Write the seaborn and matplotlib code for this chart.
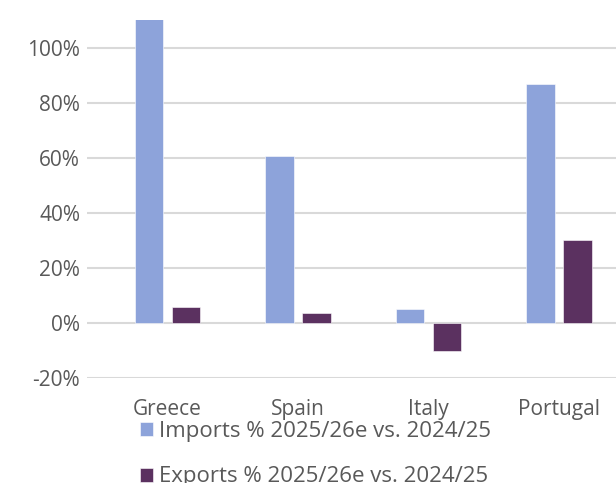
import matplotlib
matplotlib.use("Agg")
import matplotlib.pyplot as plt
import seaborn as sns
import pandas as pd
from matplotlib.ticker import FuncFormatter

countries = ["Greece", "Spain", "Italy", "Portugal"]
imports_pct = [110.5, 60.7, 5.1, 86.9]
exports_pct = [5.8, 3.6, -10.0, 30.2]
series_names = ["Imports % 2025/26e vs. 2024/25", "Exports % 2025/26e vs. 2024/25"]
colors = ["#8DA3DA", "#5B3160"]

df = pd.DataFrame({
    "country": countries * 2,
    "value": imports_pct + exports_pct,
    "series": [series_names[0]] * 4 + [series_names[1]] * 4,
})

sns.set_theme(style="white")
plt.rcParams["font.family"] = ["Open Sans", "DejaVu Sans"]
text_color = "#595959"

fig = plt.figure(figsize=(6.16, 4.83), dpi=100)
ax = fig.add_axes([87 / 616, 1 - 378 / 483, 1 - 87 / 616, (378 - 20) / 483])

sns.barplot(data=df, x="country", y="value", hue="series", palette=colors,
            width=0.567, gap=0.22, ax=ax, legend=True, saturation=1,
            edgecolor="white", linewidth=0.4)

ax.set_ylim(-20, 110.2)
ax.set_xlim(-0.617, 3.437)
ax.set_yticks([-20, 0, 20, 40, 60, 80, 100])
ax.yaxis.set_major_formatter(FuncFormatter(lambda v, p: f"{v:.0f}%"))
ax.grid(axis="y", color="#D9D9D9", linewidth=1.5)
ax.set_axisbelow(True)
for s in ax.spines.values():
    s.set_visible(False)
ax.set_xlabel("")
ax.set_ylabel("")
ax.tick_params(axis="y", labelsize=15, colors=text_color, pad=5, length=0)
ax.tick_params(axis="x", labelsize=15, colors=text_color, pad=15, length=0)

handles, labels = ax.get_legend_handles_labels()
ax.get_legend().remove()
fig.legend(handles, labels, loc="upper left", bbox_to_anchor=(140 / 616, 1 - 421 / 483),
           frameon=False, fontsize=16, labelcolor=text_color,
           handlelength=0.6, handleheight=0.6, handletextpad=0.25,
           labelspacing=1.1, borderpad=0, borderaxespad=0)

fig.savefig("out.png", dpi=100)
